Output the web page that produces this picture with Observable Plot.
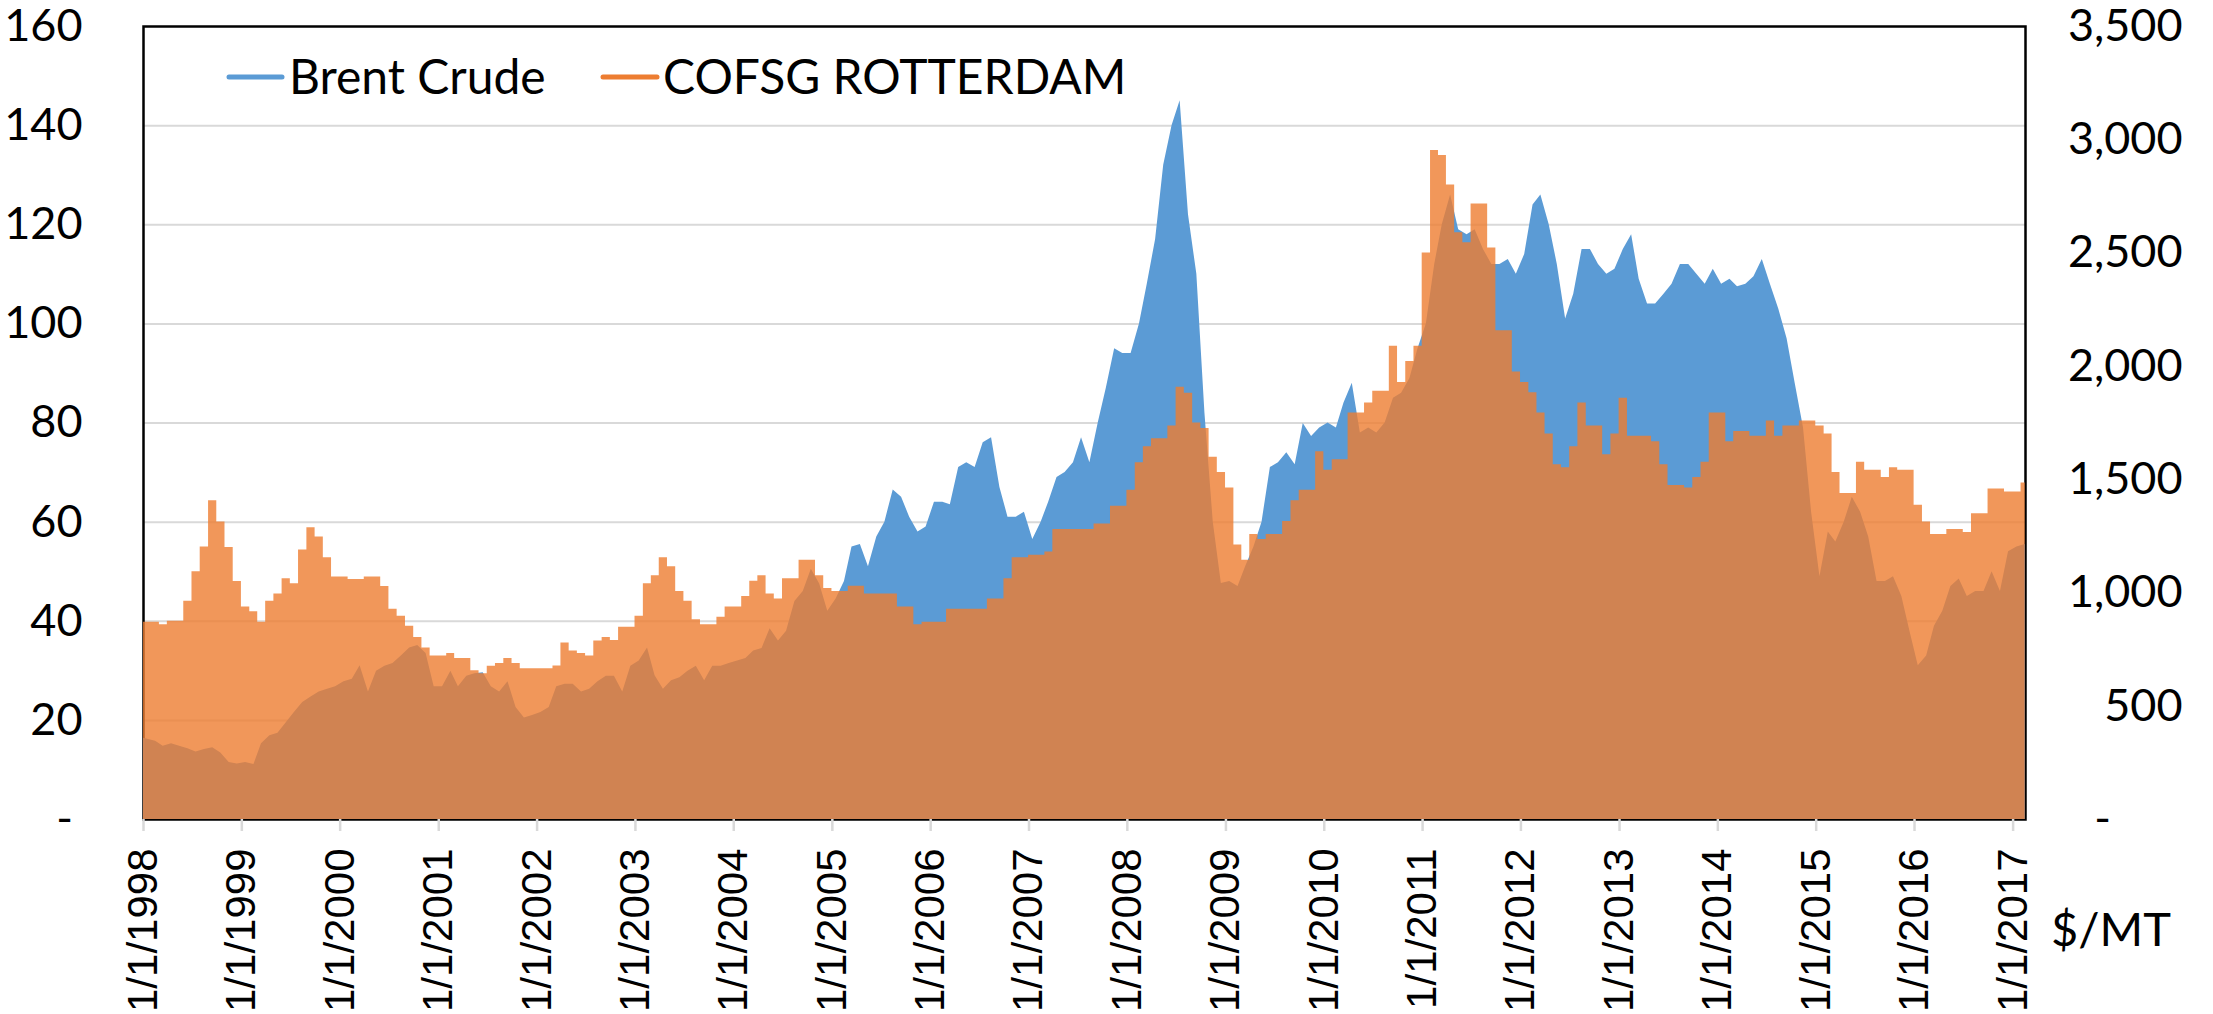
<!DOCTYPE html>
<html>
<head>
<meta charset="utf-8">
<script src="https://cdn.jsdelivr.net/npm/d3@7"></script>
<script src="https://cdn.jsdelivr.net/npm/@observablehq/plot@0.6"></script>
<style>
  body { margin: 0; background: #ffffff; }
  #chart { width: 2213px; height: 1014px; }
</style>
</head>
<body>
<div id="chart"></div>
<script>
// Monthly readings, Jan 1998 .. Feb 2017 (left axis, $/bbl)
const brentCrude = [
  16.4, 15.8, 14.8, 15.3, 14.8, 14.3, 13.6, 14.1, 14.5, 13.4, 11.5, 11.2,   // 1998
  11.5, 11.1, 15.3, 16.9, 17.4, 19.5, 21.6, 23.6, 24.7, 25.7, 26.3, 26.8,   // 1999
  27.8, 28.3, 31.0, 25.7, 29.9, 30.9, 31.5, 33.0, 34.6, 35.1, 33.5, 26.8,   // 2000
  26.8, 29.9, 26.8, 28.9, 29.4, 29.6, 26.8, 25.7, 27.8, 22.6, 20.5, 21.0,   // 2001
  21.6, 22.6, 26.8, 27.3, 27.3, 25.7, 26.3, 27.8, 28.9, 28.9, 25.7, 30.9,   // 2002
  32.0, 34.6, 29.0, 26.3, 28.0, 28.6, 29.9, 30.9, 28.0, 30.9, 30.9, 31.5,   // 2003
  32.0, 32.5, 34.0, 34.5, 38.5, 36.0, 38.0, 44.0, 46.0, 50.5, 47.5, 42.0,   // 2004
  44.5, 48.0, 55.0, 55.5, 51.0, 57.0, 60.0, 66.5, 65.0, 61.0, 58.0, 59.0,   // 2005
  64.0, 64.0, 63.5, 71.0, 72.0, 71.0, 76.0, 77.0, 67.0, 61.0, 61.0, 62.0,   // 2006
  56.5, 60.0, 64.0, 69.0, 70.0, 72.0, 77.0, 72.0, 80.0, 87.0, 95.0, 94.0,   // 2007
  94.0, 100.0, 108.0, 117.0, 132.0, 140.0, 145.0, 122.0, 110.0, 82.0, 60.0, 47.6, // 2008
  48.0, 47.0, 51.0, 55.0, 60.0, 71.0, 72.0, 74.0, 71.6, 79.9, 77.3, 79.0,   // 2009
  80.0, 79.0, 84.0, 88.0, 78.0, 79.0, 78.0, 80.0, 85.0, 86.0, 89.0, 95.0,   // 2010
  100.0, 112.0, 120.0, 126.0, 119.0, 118.0, 119.0, 115.0, 112.0, 112.0, 113.0, 110.0, // 2011
  114.0, 124.0, 126.0, 120.0, 112.0, 101.0, 106.0, 115.0, 115.0, 112.0, 110.0, 111.0, // 2012
  115.0, 118.0, 109.0, 104.0, 104.0, 106.0, 108.0, 112.0, 112.0, 110.0, 108.0, 111.0, // 2013
  108.0, 109.0, 107.5, 108.0, 109.5, 113.0, 108.0, 103.0, 97.0, 88.0, 79.0, 62.0,     // 2014
  49.0, 58.0, 56.0, 60.0, 65.0, 62.0, 57.0, 48.0, 48.0, 49.0, 45.0, 38.0,   // 2015
  31.0, 33.0, 39.0, 42.0, 47.0, 48.5, 45.0, 46.0, 46.0, 50.0, 46.0, 54.0,   // 2016
  55.0, 55.5                                                                 // 2017
];

// Monthly readings, Jan 1998 .. Feb 2017 (right axis, $/MT)
const cofsgRotterdam = [
  871, 871, 860, 875, 875, 963, 1094, 1203, 1407, 1313, 1201, 1050,        // 1998
  938, 917, 871, 963, 995, 1063, 1041, 1190, 1288, 1247, 1155, 1070,       // 1999
  1070, 1059, 1059, 1070, 1070, 1028, 928, 897, 853, 803, 757, 722,        // 2000
  722, 733, 711, 711, 656, 643, 676, 689, 711, 689, 665, 665,              // 2001
  665, 665, 678, 779, 744, 733, 722, 788, 803, 790, 849, 849,              // 2002
  897, 1041, 1076, 1155, 1116, 1006, 963, 882, 860, 860, 893, 938,         // 2003
  938, 984, 1052, 1076, 995, 973, 1063, 1063, 1144, 1144, 1076, 1019,      // 2004
  1006, 1006, 1030, 1030, 995, 995, 995, 995, 938, 938, 860, 871,          // 2005
  871, 871, 928, 928, 928, 928, 928, 973, 973, 1063, 1155, 1155,           // 2006
  1166, 1166, 1181, 1280, 1280, 1280, 1280, 1280, 1304, 1304, 1383, 1383,  // 2007
  1453, 1575, 1645, 1680, 1680, 1737, 1908, 1881, 1750, 1726, 1599, 1531,  // 2008
  1463, 1212, 1144, 1258, 1236, 1258, 1258, 1315, 1407, 1453, 1453, 1623,  // 2009
  1542, 1588, 1588, 1794, 1794, 1838, 1890, 1890, 2089, 1929, 2021, 2089,  // 2010
  2500, 2953, 2931, 2800, 2590, 2546, 2717, 2717, 2522, 2157, 2157, 1975,  // 2011
  1929, 1883, 1794, 1702, 1566, 1553, 1645, 1838, 1737, 1737, 1610, 1702,  // 2012
  1859, 1691, 1691, 1691, 1667, 1566, 1474, 1474, 1463, 1509, 1577, 1794,  // 2013
  1794, 1667, 1713, 1713, 1691, 1691, 1759, 1691, 1737, 1737, 1759, 1759,  // 2014
  1737, 1702, 1531, 1439, 1439, 1577, 1542, 1542, 1509, 1553, 1542, 1542,  // 2015
  1387, 1313, 1258, 1258, 1280, 1280, 1267, 1350, 1350, 1459, 1459, 1446,  // 2016
  1446, 1485                                                               // 2017
];

const tickYears = [1998, 1999, 2000, 2001, 2002, 2003, 2004, 2005, 2006, 2007,
                   2008, 2009, 2010, 2011, 2012, 2013, 2014, 2015, 2016, 2017];
const leftTicks = [0, 20, 40, 60, 80, 100, 120, 140, 160];
const rightTicks = [0, 500, 1000, 1500, 2000, 2500, 3000, 3500];
const seriesNames = ["Brent Crude", "COFSG ROTTERDAM"];
const seriesColors = ["#5B9BD5", "#ED7D31"];

const RATIO = 3500 / 160; // right axis units per left axis unit

// readings taken mid-month; the first one at the left edge
const rows = brentCrude.map((b, i) => ({
  date: i === 0 ? new Date(Date.UTC(1998, 0, 1)) : new Date(Date.UTC(1998, i, 15)),
  brent: b,
  cofsgL: cofsgRotterdam[i] / RATIO
}));

const W = 2213, H = 1014;
const L = 143, R = 2025, T = 26, B = 819;
const sans = "Lato, 'Open Sans', sans-serif";

const tickDates = tickYears.map(y => new Date(Date.UTC(y, 0, 1)));
const fmtRight = d3.format(",");

const chart = Plot.plot({
  width: W,
  height: H,
  marginLeft: L,
  marginRight: W - R,
  marginTop: T,
  marginBottom: H - B,
  style: { fontFamily: sans, background: "white", overflow: "visible", color: "black" },
  x: { type: "utc", domain: [new Date(Date.UTC(1998, 0, 1)), new Date(Date.UTC(2017, 1, 16))], axis: null },
  y: { domain: [0, 160], axis: null },
  marks: [
    Plot.gridY(leftTicks.filter(v => v > 0 && v < 160), { stroke: "#D9D9D9", strokeOpacity: 1, strokeWidth: 2 }),
    Plot.frame({ stroke: "black", strokeWidth: 2.5 }),
    Plot.areaY(rows, { x: "date", y: "brent", fill: seriesColors[0], curve: "linear", clip: true }),
    Plot.areaY(rows, { x: "date", y: "cofsgL", fill: seriesColors[1], fillOpacity: 0.8, curve: "step", clip: true }),
    // x tick marks
    Plot.axisX(tickDates, { tickSize: 12, tickFormat: () => "", stroke: "#D9D9D9", strokeWidth: 2.5 }),
    // x tick labels
    Plot.axisX(tickDates, {
      tickSize: 0, tickPadding: 29, tickRotate: -90,
      tickFormat: d => `1/1/${d.getUTCFullYear()}`,
      fontSize: 42, fontFamily: "'Liberation Sans', Arial, sans-serif", fill: "black", label: null
    }),
    // left axis labels
    Plot.text(leftTicks.filter(v => v > 0), {
      y: d => d, text: d => String(d), frameAnchor: "left", textAnchor: "end", dx: -61,
      fontSize: 45, fill: "black"
    }),
    Plot.text([0], { y: d => d, text: () => "-", frameAnchor: "left", textAnchor: "middle", dx: -79, fontSize: 45, fill: "black" }),
    // right axis labels
    Plot.text(rightTicks.filter(v => v > 0), {
      y: d => d / RATIO, text: d => fmtRight(d), frameAnchor: "right", textAnchor: "end", dx: 157,
      fontSize: 45, fill: "black"
    }),
    Plot.text([0], { y: d => d / RATIO, text: () => "-", frameAnchor: "right", textAnchor: "middle", dx: 77, fontSize: 45, fill: "black" })
  ]
});

const svg = d3.select(chart);
// legend inside plot area
const legend = [
  { name: seriesNames[0], color: seriesColors[0], x1: 229, x2: 282, tx: 289 },
  { name: seriesNames[1], color: seriesColors[1], x1: 603, x2: 657, tx: 663 }
];
const lg = svg.append("g").attr("text-anchor", "start");
legend.forEach(d => {
  lg.append("line").attr("x1", d.x1).attr("x2", d.x2).attr("y1", 77).attr("y2", 77)
    .attr("stroke", d.color).attr("stroke-width", 5).attr("stroke-linecap", "round");
  lg.append("text").attr("x", d.tx).attr("y", 94).attr("font-size", 48)
    .attr("text-anchor", "start")
    .attr("font-family", sans).attr("fill", "black").text(d.name);
});
// unit label
svg.append("text").attr("x", 2111).attr("y", 946).attr("text-anchor", "middle")
  .attr("font-size", 47).attr("font-family", sans).attr("fill", "black").text("$/MT");

document.getElementById("chart").appendChild(chart);
</script>
</body>
</html>
